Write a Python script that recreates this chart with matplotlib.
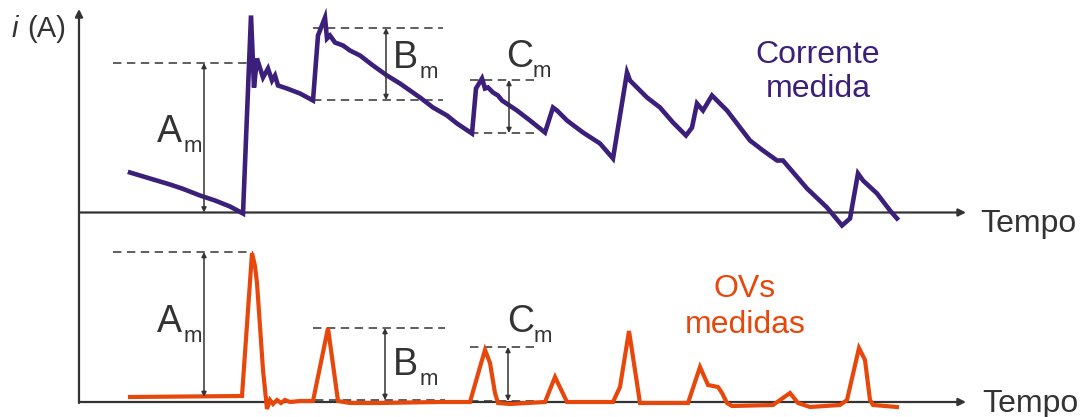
import matplotlib
matplotlib.use("Agg")
import matplotlib.pyplot as plt

plt.rcParams['font.family'] = ['Liberation Sans', 'DejaVu Sans']

# ---------------- data (time from the y axis, amplitude above each baseline) -------------
t_current = [51, 71, 91, 103, 121, 136, 151, 164,
             172, 175, 178, 184, 189, 193, 196, 199, 208, 221, 234,
             239, 246, 248, 251, 256, 264, 271, 281, 294, 308, 321, 341, 354, 368, 378, 393,
             397, 403, 406, 409, 414, 419, 423, 438, 451, 466,
             474, 478, 488, 504, 521, 534,
             548, 551, 558, 568, 581, 594, 607, 613, 618, 624, 633, 648, 671, 684, 698,
             704, 728, 748, 763, 771, 779, 784, 798, 811, 818]
i_current = [40, 34, 28, 24, 17, 12, 6, -1,
             197, 125, 154, 135, 144, 132, 137, 127, 124, 119, 112,
             177, 195, 174, 177, 170, 167, 162, 157, 147, 137, 129, 115, 105, 97, 89, 79,
             124, 134, 124, 125, 120, 117, 112, 102, 92, 80,
             105, 102, 92, 80, 69, 54,
             140, 132, 125, 115, 105, 90, 77, 85, 109, 102, 117, 102, 72, 62, 52,
             52, 24, 5, -13, -6, 39, 32, 19, 2, -6]

t_ov = [51, 163, 173, 176, 178, 184, 188, 191, 194, 198, 202, 206, 211, 221, 234,
        249, 259, 271, 301, 361, 391, 401, 406, 411, 416, 419, 431,
        466, 476, 488, 534, 541, 550, 561, 609, 621, 629, 639, 643, 648, 653,
        694, 711, 719, 731, 761, 768, 780, 786, 791, 794, 818]
v_ov = [5, 6, 149, 136, 119, 32, -7, 2, -2, 2, -1, 2, 0, 1, 1,
        74, 1, -1, -1, 0, 0, 35, 52, 39, 9, -1, -2,
        0, 25, 0, 0, 15, 71, -1, -1, 35, 17, 15, 9, -1, -4,
        -3, 9, -1, -5, -3, 2, 54, 42, 2, -3, -5]

y_label_sym = "i"
y_label_unit = "(A)"
x_label = "Tempo"
current_label = ["Corrente", "medida"]
ov_label = ["OVs", "medidas"]
meas_letters = ["A", "B", "C"]

# ---------------- layout -------------
W, H = 1087, 417
X0 = 79
TOP_BASE = 212.5
BOT_BASE = 402
AX_END = 966

PURPLE = "#3b1f7a"
ORANGE = "#e8470c"
DARK = "#333333"

fig = plt.figure(figsize=(W / 100, H / 100), dpi=100)
ax = fig.add_axes([0, 0, 1, 1])
ax.set_xlim(0, W)
ax.set_ylim(H, 0)
ax.axis("off")

arrow_axis = dict(arrowstyle="-|>", color=DARK, lw=1.6, mutation_scale=11,
                  shrinkA=0, shrinkB=0)
# axes
ax.annotate("", xy=(X0, 9), xytext=(X0, BOT_BASE + 1), arrowprops=arrow_axis)
ax.annotate("", xy=(AX_END, TOP_BASE), xytext=(X0, TOP_BASE), arrowprops=arrow_axis)
ax.annotate("", xy=(AX_END, BOT_BASE), xytext=(X0, BOT_BASE), arrowprops=arrow_axis)

# traces
ax.plot([X0 + t for t in t_current], [TOP_BASE - v for v in i_current],
        color=PURPLE, lw=3.3, solid_joinstyle="miter", zorder=3)
ax.plot([X0 + t for t in t_ov], [BOT_BASE - v for v in v_ov],
        color=ORANGE, lw=3.0, solid_joinstyle="miter", zorder=3)

dash = (0, (5.5, 3.6))


def hdash(x1, x2, y):
    ax.plot([x1, x2], [y, y], color=DARK, lw=1.1, ls=dash, zorder=2)


def vmeasure(x, y1, y2):
    ax.annotate("", xy=(x, y1), xytext=(x, y2),
                arrowprops=dict(arrowstyle="<|-|>", color=DARK, lw=1.1,
                                mutation_scale=7, shrinkA=0, shrinkB=0))


def mlabel(x, y, letter):
    ax.text(x, y, letter, fontsize=27, color=DARK, ha="left", va="baseline")
    ax.text(x + 27, y + 10, "m", fontsize=16, color=DARK, ha="left", va="baseline")


# top annotations
hdash(113, 255, 63)
vmeasure(204, 63, TOP_BASE)
mlabel(157, 142, meas_letters[0])

hdash(313, 443, 28)
hdash(313, 443, 100)
vmeasure(386, 28, 100)
mlabel(393, 68, meas_letters[1])

hdash(470, 537, 80)
hdash(470, 537, 133)
vmeasure(509, 80, 133)
mlabel(506, 67, meas_letters[2])

# bottom annotations
hdash(113, 253, 252)
vmeasure(204, 252, 397)
mlabel(157, 332, meas_letters[0])

hdash(313, 445, 328)
hdash(315, 445, 400)
vmeasure(385, 328, 400)
mlabel(393, 375, meas_letters[1])

hdash(470, 538, 347)
hdash(470, 538, 401)
vmeasure(508, 347, 401)
mlabel(507, 332, meas_letters[2])

# axis labels
ax.text(12, 37, y_label_sym, fontsize=21, style="italic", color=DARK, va="baseline")
ax.text(27, 37, y_label_unit, fontsize=21, color=DARK, va="baseline")
ax.text(980, 232, x_label, fontsize=23, color=DARK, va="baseline")
ax.text(982, 412, x_label, fontsize=23, color=DARK, va="baseline")

# series labels
for txt, yb in zip(current_label, [63, 97]):
    ax.text(818, yb, txt, fontsize=23, color=PURPLE, ha="center", va="baseline")
for txt, yb in zip(ov_label, [297, 333]):
    ax.text(745, yb, txt, fontsize=23, color=ORANGE, ha="center", va="baseline")

fig.savefig("out.png", dpi=100)
